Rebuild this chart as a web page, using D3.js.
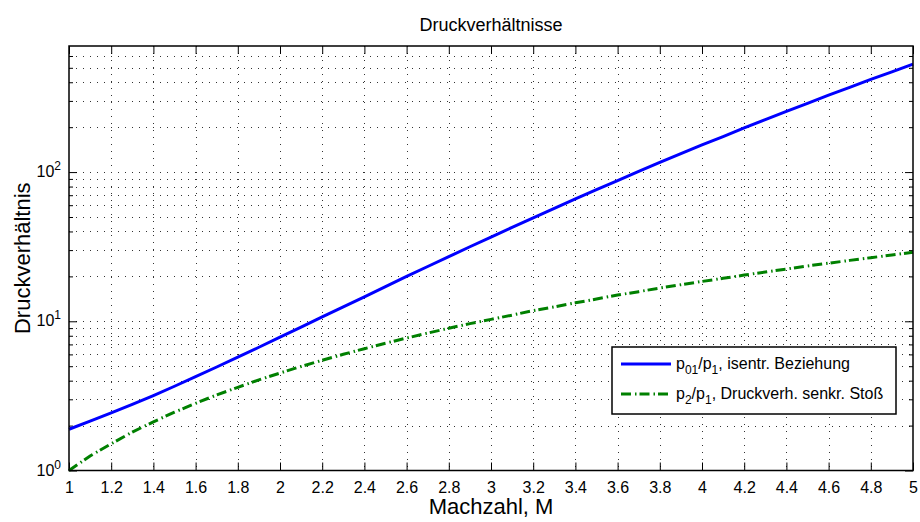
<!DOCTYPE html>
<html>
<head>
<meta charset="utf-8">
<script src="https://cdn.jsdelivr.net/npm/d3@7"></script>
<style>
  html, body { margin: 0; padding: 0; background: #fff; overflow: hidden; }
  svg { display: block; }
  svg text { font-family: "Liberation Sans", Arial, Helvetica, sans-serif; fill: #000; }
</style>
</head>
<body>
<svg id="chart" width="920" height="522"></svg>
<script>
// Machzahl (x) samples
const mach = [1.0, 1.1, 1.2, 1.3, 1.4, 1.5, 1.6, 1.7, 1.8, 1.9, 2.0, 2.1, 2.2, 2.3, 2.4, 2.5, 2.6, 2.7, 2.8, 2.9, 3.0,
  3.1, 3.2, 3.3, 3.4, 3.5, 3.6, 3.7, 3.8, 3.9, 4.0, 4.1, 4.2, 4.3, 4.4, 4.5, 4.6, 4.7, 4.8, 4.9, 5.0];
// p01/p1, isentrope Beziehung
const isentrop = [1.89, 2.14, 2.43, 2.77, 3.18, 3.67, 4.25, 4.94, 5.75, 6.70, 7.82, 9.14, 10.7, 12.5, 14.6, 17.1,
  20.0, 23.3, 27.1, 31.6, 36.7, 42.6, 49.4, 57.2, 66.1, 76.3, 87.8, 101, 116, 133, 152, 173, 198, 225, 255, 289,
  328, 370, 418, 470, 529];
// p2/p1, senkrechter Stoß
const stoss = [1.00, 1.25, 1.51, 1.81, 2.12, 2.46, 2.82, 3.21, 3.61, 4.05, 4.50, 4.98, 5.48, 6.01, 6.55, 7.13,
  7.72, 8.34, 8.98, 9.65, 10.3, 11.0, 11.8, 12.5, 13.3, 14.1, 15.0, 15.8, 16.7, 17.6, 18.5, 19.4, 20.4, 21.4,
  22.4, 23.5, 24.5, 25.6, 26.7, 27.8, 29.0];
const xTicks = [1, 1.2, 1.4, 1.6, 1.8, 2, 2.2, 2.4, 2.6, 2.8, 3, 3.2, 3.4, 3.6, 3.8, 4, 4.2, 4.4, 4.6, 4.8, 5];
const yMajor = [1, 10, 100];
const yMinor = [2, 3, 4, 5, 6, 7, 8, 9, 20, 30, 40, 50, 60, 70, 80, 90, 200, 300, 400, 500, 600];

const svg = d3.select('#chart');
const margin = { top: 46, right: 7, bottom: 51.5, left: 69 };
const width = +svg.attr('width');
const height = +svg.attr('height');
const innerWidth = width - margin.left - margin.right;
const innerHeight = height - margin.top - margin.bottom;
const dashDot = '10,4,1.5,3';

const g = svg.append('g').attr('transform', `translate(${margin.left},${margin.top})`);

const x = d3.scaleLinear().domain([1, 5]).range([0, innerWidth]);
const y = d3.scaleLog().domain([1, 700]).range([innerHeight, 0]);

// grid (dotted, like matlab)
const grid = g.append('g').attr('stroke', '#333').attr('stroke-width', 1).attr('stroke-dasharray', '1,6');
grid.selectAll('.vg').data(xTicks.slice(1, -1)).enter().append('line')
  .attr('x1', d => Math.round(x(d)) + 0.5).attr('x2', d => Math.round(x(d)) + 0.5)
  .attr('y1', 0).attr('y2', innerHeight);
grid.selectAll('.hg').data(yMajor.slice(1).concat(yMinor)).enter().append('line')
  .attr('y1', d => Math.round(y(d)) + 0.5).attr('y2', d => Math.round(y(d)) + 0.5)
  .attr('x1', 0).attr('x2', innerWidth);

// axes (ticks point inward)
const axB = g.append('g').attr('transform', `translate(0,${innerHeight})`)
  .call(d3.axisBottom(x).tickValues(xTicks).tickSizeInner(-8).tickSizeOuter(0).tickPadding(11).tickFormat(d3.format('')));
g.append('g').call(d3.axisTop(x).tickValues(xTicks).tickSizeInner(-8).tickSizeOuter(0));
g.append('g').call(d3.axisLeft(y).tickValues(yMajor).tickSizeInner(-8).tickSizeOuter(0));
g.append('g').attr('transform', `translate(${innerWidth},0)`)
  .call(d3.axisRight(y).tickValues(yMajor).tickSizeInner(-8).tickSizeOuter(0));
g.append('g').call(d3.axisLeft(y).tickValues(yMinor).tickSizeInner(-4).tickSizeOuter(0));
g.append('g').attr('transform', `translate(${innerWidth},0)`)
  .call(d3.axisRight(y).tickValues(yMinor).tickSizeInner(-4).tickSizeOuter(0));
g.selectAll('.domain').remove();
g.selectAll('.tick line').attr('stroke', '#000');
g.selectAll('.tick text').filter(function() { return this.parentNode.parentNode !== axB.node(); }).remove();
axB.selectAll('text').style('font-size', '16px');

// y tick labels as 10^n
yMajor.forEach((v, i) => {
  const t = g.append('text').attr('x', -8).attr('y', y(v) + 5)
    .attr('text-anchor', 'end').style('font-size', '16px');
  t.append('tspan').text('10');
  t.append('tspan').attr('dy', -7).style('font-size', '12px').text(String(i));
});

// lines
const line = d3.line().x((d, i) => x(mach[i])).y(d => y(d));
g.append('path').datum(isentrop).attr('d', line)
  .attr('fill', 'none').attr('stroke', '#0000ff').attr('stroke-width', 3);
g.append('path').datum(stoss).attr('d', line)
  .attr('fill', 'none').attr('stroke', '#008000').attr('stroke-width', 3)
  .attr('stroke-dasharray', dashDot);

// box
g.append('rect').attr('x', 0).attr('y', 0).attr('width', innerWidth).attr('height', innerHeight)
  .attr('fill', 'none').attr('stroke', '#000').attr('stroke-width', 1.5);

// title & labels
svg.append('text').attr('x', margin.left + innerWidth / 2).attr('y', 31)
  .attr('text-anchor', 'middle').style('font-size', '18px').text('Druckverhältnisse');
svg.append('text').attr('x', margin.left + innerWidth / 2).attr('y', 514)
  .attr('text-anchor', 'middle').style('font-size', '22px').text('Machzahl, M');
svg.append('text').attr('transform', `translate(30,${margin.top + innerHeight / 2}) rotate(-90)`)
  .attr('text-anchor', 'middle').style('font-size', '22px').text('Druckverhältnis');

// legend
const legend = svg.append('g').attr('transform', 'translate(612,347)');
legend.append('rect').attr('width', 284).attr('height', 67)
  .attr('fill', '#fff').attr('stroke', '#000').attr('stroke-width', 1.5);
const entries = [
  { color: '#0000ff', dash: null, parts: [['p', 0], ['01', 1], ['/p', 0], ['1', 1], [', isentr. Beziehung', 0]] },
  { color: '#008000', dash: dashDot, parts: [['p', 0], ['2', 1], ['/p', 0], ['1', 1], [', Druckverh. senkr. Stoß', 0]] }
];
entries.forEach((e, i) => {
  const ly = 17 + i * 30;
  legend.append('line').attr('x1', 9).attr('x2', 59).attr('y1', ly).attr('y2', ly)
    .attr('stroke', e.color).attr('stroke-width', 3).attr('stroke-dasharray', e.dash);
  const t = legend.append('text').attr('x', 64).attr('y', ly + 5).style('font-size', '16px');
  let prevSub = 0;
  e.parts.forEach(p => {
    const dy = (p[1] - prevSub) * 5;
    t.append('tspan').attr('dy', dy).style('font-size', p[1] ? '12px' : '16px').text(p[0]);
    prevSub = p[1];
  });
});
</script>
</body>
</html>
